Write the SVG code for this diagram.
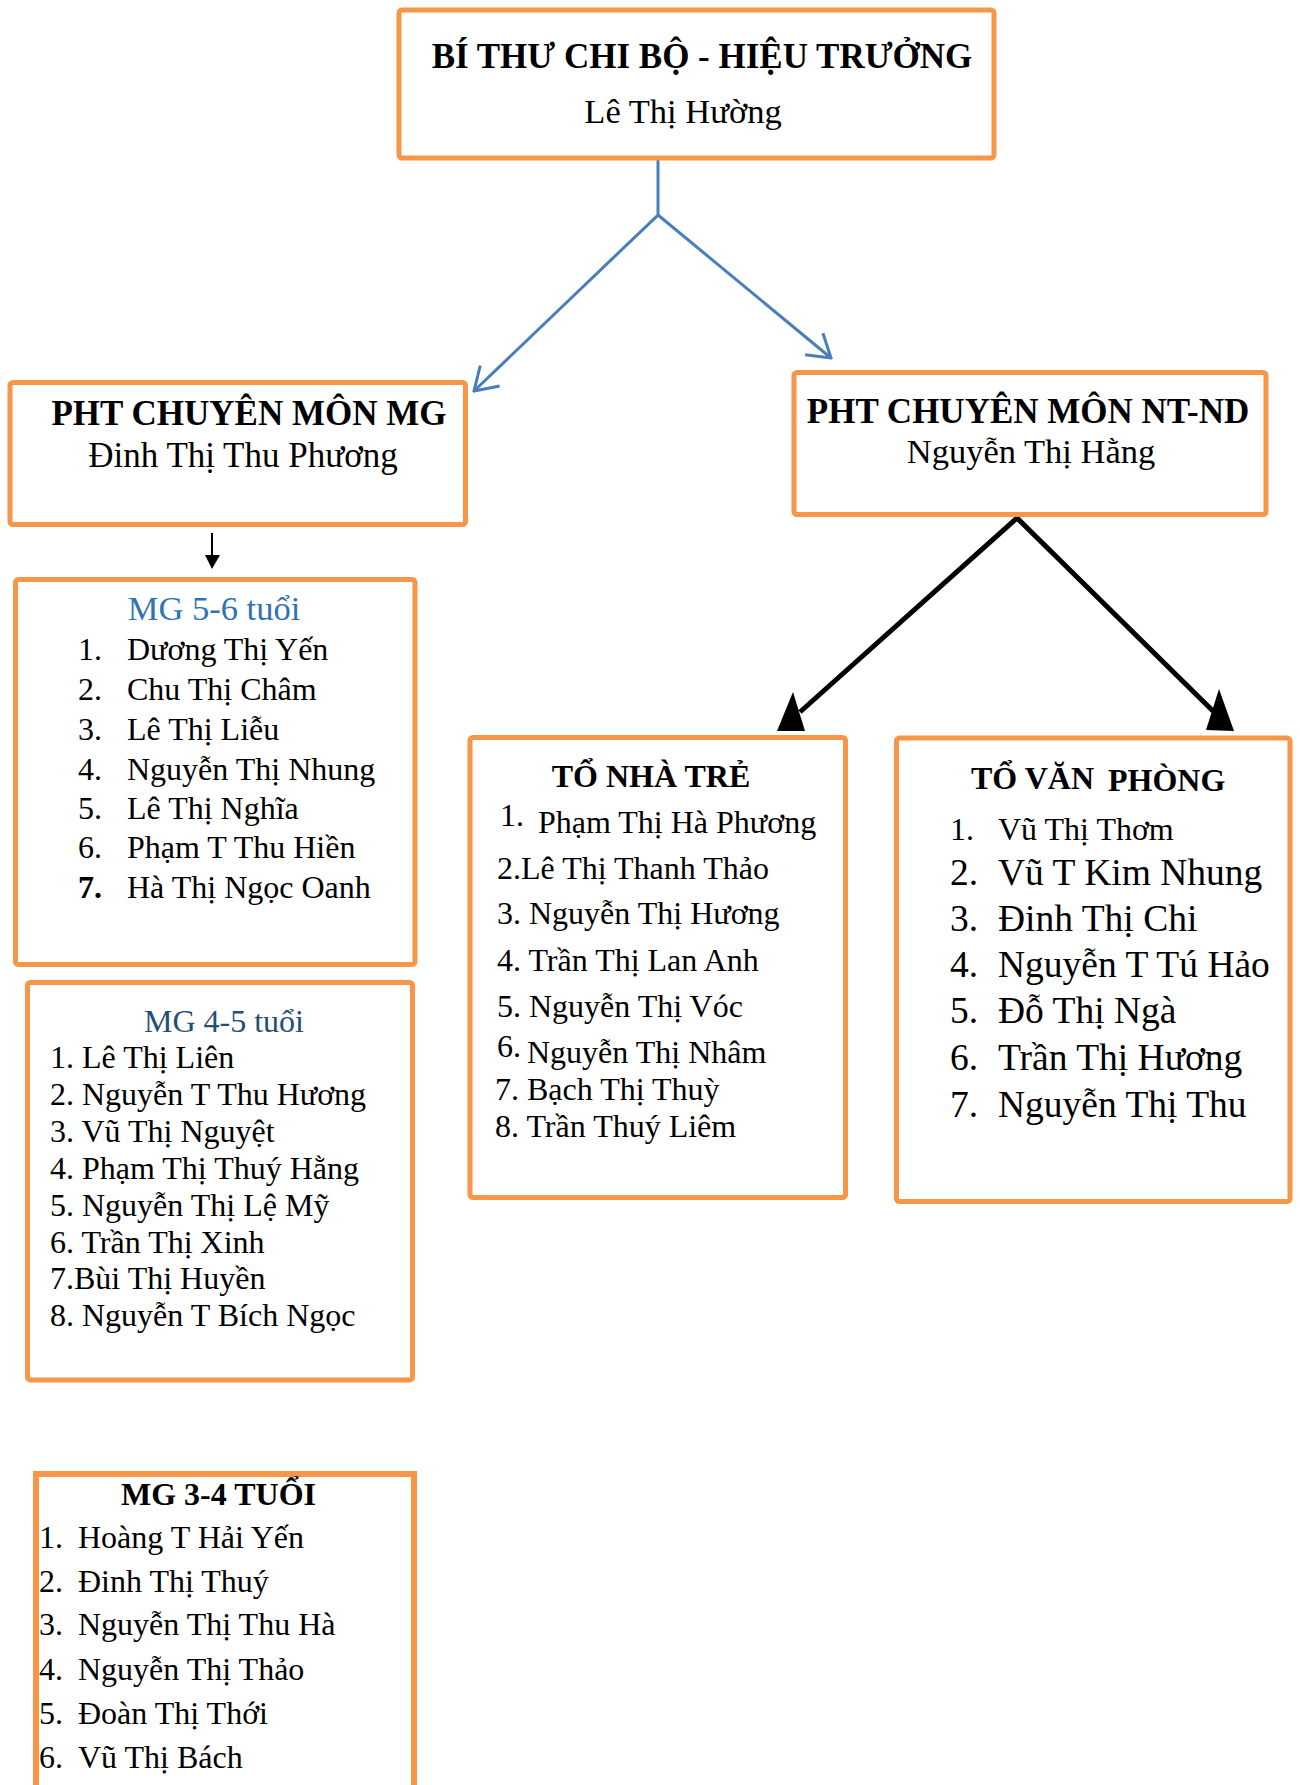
<svg xmlns="http://www.w3.org/2000/svg" width="1300" height="1785" viewBox="0 0 1300 1785">
<style>
.box{fill:#fff;stroke:#F79646;stroke-width:5}
text{font-family:"Liberation Serif","Times New Roman",serif;fill:#000}
.b{font-weight:bold}
.t35{font-size:35px}
.t34{font-size:34.5px}
.t32{font-size:32px}
.t37{font-size:37.5px}
.c{text-anchor:middle}
.blue{fill:none;stroke:#4A7EBB;stroke-width:3}
.blk{fill:none;stroke:#000;stroke-width:5;stroke-linejoin:miter}
</style>
<defs>
<marker id="openBlue" viewBox="-26 -16 28 32" refX="0" refY="0" markerWidth="28" markerHeight="32" markerUnits="userSpaceOnUse" orient="auto">
<path d="M-22,-14 L0,0 L-22,14" fill="none" stroke="#4A7EBB" stroke-width="3"/>
</marker>
</defs>
<rect width="1300" height="1785" fill="#fff"/>

<g id="connectors">
<path class="blue" d="M658,156 V215 L474,391" marker-end="url(#openBlue)"/>
<path class="blue" d="M658,215 L831,358" marker-end="url(#openBlue)"/>
<path class="blk" d="M800,712 L1017,518 L1215,713"/>
<polygon points="793,692 777,731 805,731" fill="#000"/>
<polygon points="1219,689 1206,730 1234,731" fill="#000"/>
<line x1="212" y1="533" x2="212" y2="557" stroke="#000" stroke-width="2"/>
<polygon points="205,555 220,555 212,569" fill="#000"/>
</g>

<g id="node-hieutruong">
<rect class="box" x="399" y="10" width="595" height="148" rx="3"/>
<text class="t35 b c" x="702" y="68">BÍ THƯ CHI BỘ - HIỆU TRƯỞNG</text>
<text class="t34 c" x="683" y="123">Lê Thị Hường</text>
</g>

<g id="node-pht-mg">
<rect class="box" x="10" y="382.5" width="455.5" height="142" rx="3"/>
<text class="t35 b c" x="249" y="425">PHT CHUYÊN MÔN MG</text>
<text class="t35 c" x="243" y="467">Đinh Thị Thu Phương</text>
</g>

<g id="node-pht-ntnd">
<rect class="box" x="794" y="372.5" width="472" height="142" rx="3"/>
<text class="t35 b c" x="1028" y="423">PHT CHUYÊN MÔN NT-ND</text>
<text class="t34 c" x="1031" y="463">Nguyễn Thị Hằng</text>
</g>

<g id="node-mg56">
<rect class="box" x="15.5" y="579.5" width="399.5" height="385" rx="3"/>
<text class="t34 c" x="214" y="620" style="fill:#2E74B5">MG 5-6 tuổi</text>
<g class="t32">
<text x="78" y="660">1.</text><text x="127" y="660">Dương Thị Yến</text>
<text x="78" y="700">2.</text><text x="127" y="700">Chu Thị Châm</text>
<text x="78" y="740">3.</text><text x="127" y="740">Lê Thị Liễu</text>
<text x="78" y="780">4.</text><text x="127" y="780">Nguyễn Thị Nhung</text>
<text x="78" y="819">5.</text><text x="127" y="819">Lê Thị Nghĩa</text>
<text x="78" y="858">6.</text><text x="127" y="858">Phạm T Thu Hiền</text>
<text x="78" y="898" class="b">7.</text><text x="127" y="898">Hà Thị Ngọc Oanh</text>
</g>
</g>

<g id="node-mg45">
<rect class="box" x="27.5" y="982.5" width="385" height="397.5" rx="3"/>
<text class="t32 c" x="224" y="1032" style="fill:#1F4E79">MG 4-5 tuổi</text>
<g class="t32">
<text x="50" y="1068">1. Lê Thị Liên</text>
<text x="50" y="1105">2. Nguyễn T Thu Hương</text>
<text x="50" y="1142">3. Vũ Thị Nguyệt</text>
<text x="50" y="1179">4. Phạm Thị Thuý Hằng</text>
<text x="50" y="1216">5. Nguyễn Thị Lệ Mỹ</text>
<text x="50" y="1253">6. Trần Thị Xinh</text>
<text x="50" y="1289">7.Bùi Thị Huyền</text>
<text x="50" y="1326">8. Nguyễn T Bích Ngọc</text>
</g>
</g>

<g id="node-mg34">
<rect class="box" x="36" y="1474" width="378" height="420" style="stroke-width:6"/>
<text class="t32 b c" x="218.5" y="1505">MG 3-4 TUỔI</text>
<g class="t32">
<text x="39" y="1548">1.</text><text x="78" y="1548">Hoàng T Hải Yến</text>
<text x="39" y="1592">2.</text><text x="78" y="1592">Đinh Thị Thuý</text>
<text x="39" y="1635">3.</text><text x="78" y="1635">Nguyễn Thị Thu Hà</text>
<text x="39" y="1680">4.</text><text x="78" y="1680">Nguyễn Thị Thảo</text>
<text x="39" y="1724">5.</text><text x="78" y="1724">Đoàn Thị Thới</text>
<text x="39" y="1768">6.</text><text x="78" y="1768">Vũ Thị Bách</text>
</g>
</g>

<g id="node-tonhatre">
<rect class="box" x="470" y="737.5" width="375.5" height="460" rx="3"/>
<text class="t32 b c" x="651" y="787">TỔ NHÀ TRẺ</text>
<g class="t32">
<text x="500" y="826">1.</text><text x="538" y="833">Phạm Thị Hà Phương</text>
<text x="497" y="879">2.Lê Thị Thanh Thảo</text>
<text x="497" y="924">3. Nguyễn Thị Hương</text>
<text x="497" y="971">4. Trần Thị Lan Anh</text>
<text x="497" y="1017">5. Nguyễn Thị Vóc</text>
<text x="497" y="1057">6.</text><text x="527" y="1063">Nguyễn Thị Nhâm</text>
<text x="495" y="1100">7. Bạch Thị Thuỳ</text>
<text x="495" y="1137">8. Trần Thuý Liêm</text>
</g>
</g>

<g id="node-tovanphong">
<rect class="box" x="896.5" y="738" width="393.5" height="463.5" rx="3"/>
<text class="t32 b" x="971" y="789">TỔ VĂN <tspan dx="6" dy="2">PHÒNG</tspan></text>
<text class="t32" x="950" y="840">1.</text><text class="t32" x="998" y="840">Vũ Thị Thơm</text>
<g class="t37">
<text x="950" y="885">2.</text><text x="998" y="885">Vũ T Kim Nhung</text>
<text x="950" y="931">3.</text><text x="998" y="931">Đinh Thị Chi</text>
<text x="950" y="977">4.</text><text x="998" y="977">Nguyễn T Tú Hảo</text>
<text x="950" y="1023">5.</text><text x="998" y="1023">Đỗ Thị Ngà</text>
<text x="950" y="1070">6.</text><text x="998" y="1070">Trần Thị Hương</text>
<text x="950" y="1117">7.</text><text x="998" y="1117">Nguyễn Thị Thu</text>
</g>
</g>
</svg>
